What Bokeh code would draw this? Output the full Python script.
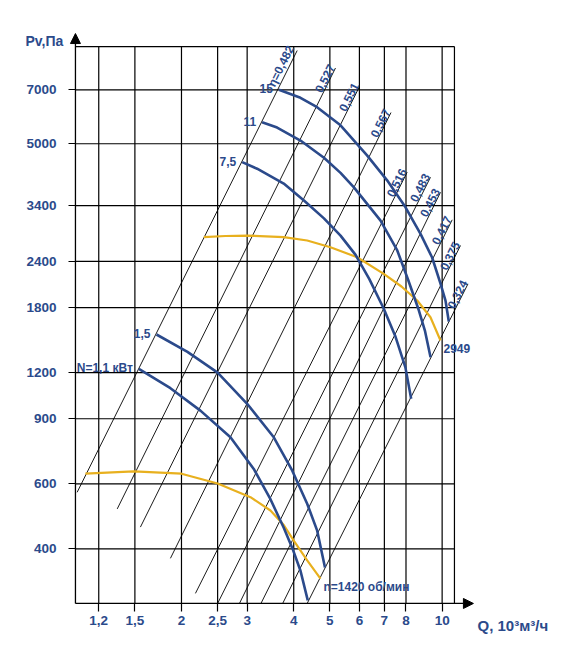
from bokeh.plotting import figure
from bokeh.models import Range1d, FixedTicker, Arrow, NormalHead, Label, CustomJSTickFormatter
from bokeh.core.properties import value
from bokeh.embed import file_html
from bokeh.resources import INLINE

# ---------------- data ----------------
X_TICKS = [1.2, 1.5, 2, 2.5, 3, 4, 5, 6, 7, 8, 10]
X_TICK_LABELS = ["1,2", "1,5", "2", "2,5", "3", "4", "5", "6", "7", "8", "10"]
Y_TICKS = [400, 600, 900, 1200, 1800, 2400, 3400, 5000, 7000]
Y_TICK_LABELS = ["400", "600", "900", "1200", "1800", "2400", "3400", "5000", "7000"]

# efficiency (system) lines
ETA_LABELS = ["η=0,482", "0,527", "0,551", "0,567", "0,516", "0,483", "0,453", "0,417", "0,375", "0,324"]
ETA_Q_START = [1.050, 1.345, 1.552, 1.868, 2.180, 2.50, 2.861, 3.267, 3.736, 4.346]
ETA_P_START = [569, 513, 458, 377, 303, 284.5, 284.5, 284.5, 284.5, 284.5]
ETA_Q_END = [4.086, 5.176, 6.002, 7.292, 8.058, 9.305, 9.898, 10.64, 11.20, 11.73]
ETA_P_END = [8942, 8018, 7142, 6074, 4187, 4058, 3695, 3112, 2651, 2087]

# power curves (blue)
N_LABELS = ["N=1,1 кВт", "1,5", "7,5", "11", "15"]
Q_N11 = [1.537, 1.868, 2.248, 2.706, 3.125, 3.464, 3.761, 3.968, 4.170, 4.362]
P_N11 = [1229, 1089, 947, 802, 658, 545, 456, 401, 349, 290]
Q_N15 = [1.714, 2.075, 2.5, 3.0, 3.536, 3.961, 4.346, 4.623, 4.851]
P_N15 = [1522, 1366, 1200, 988, 802, 652, 530, 448, 356]
Q_N75 = [2.91, 3.19, 3.76, 4.26, 4.82, 5.34, 5.86, 6.38, 6.97, 7.50, 7.97, 8.26]
P_N75 = [4460, 4280, 3900, 3510, 3140, 2820, 2500, 2150, 1790, 1500, 1240, 1020]
Q_N110 = [3.29, 3.61, 4.17, 4.82, 5.34, 5.80, 6.83, 7.58, 8.10, 8.66, 8.99, 9.31]
P_N110 = [5720, 5530, 5100, 4580, 4170, 3810, 3100, 2570, 2145, 1770, 1560, 1320]
Q_N150 = [3.65, 4.17, 4.62, 5.34, 6.29, 7.12, 7.97, 8.75, 9.40, 9.90, 10.21, 10.42]
P_N150 = [7000, 6660, 6280, 5610, 4650, 3980, 3370, 2850, 2460, 2090, 1880, 1650]

# speed curves (yellow)
SPEED_LABELS = ["n=1420 об/мин", "2949"]
Q_Y1420 = [1.105, 1.490, 2.0, 2.5, 3.062, 3.464, 3.761, 4.0, 4.346, 4.718]
P_Y1420 = [639, 648, 639, 601, 552, 508, 464, 421, 372, 332]
Q_Y2949 = [2.295, 2.624, 3.0, 3.762, 4.346, 5.018, 5.917, 6.973, 7.779, 8.574, 9.305, 9.898]
P_Y2949 = [2792, 2813, 2821, 2792, 2735, 2623, 2464, 2222, 2053, 1881, 1695, 1466]

# view / grid extents
Q_VIEW = (0.6542, 19.89)
P_VIEW = (230.1, 12215)
Q_LEFT, Q_GRID_END = 1.0392, 10.79
P_BOTTOM, P_GRID_END = 284.5, 9167
Q_ARROW = 12.13
P_ARROW = 9941

BLUE = "#2b4a8b"
YELLOW = "#e8b01e"
FONT = "Liberation Sans"

p = figure(width=553, height=637, x_axis_type="log", y_axis_type="log",
           x_range=Range1d(*Q_VIEW), y_range=Range1d(*P_VIEW),
           output_backend="svg", toolbar_location=None,
           min_border_left=0, min_border_right=0, min_border_top=0, min_border_bottom=0)
p.xgrid.visible = False
p.ygrid.visible = False
p.outline_line_color = None
p.background_fill_color = "white"
p.border_fill_color = "white"

# axes (fixed inside the frame)
p.xaxis[0].fixed_location = P_BOTTOM
p.yaxis[0].fixed_location = Q_LEFT
for ax, ticks, labels, tout, stand in ((p.xaxis[0], X_TICKS, X_TICK_LABELS, 8, 5),
                                       (p.yaxis[0], Y_TICKS, Y_TICK_LABELS, 7, 12)):
    ax.ticker = FixedTicker(ticks=ticks, minor_ticks=[])
    ax.formatter = CustomJSTickFormatter(code="return String(tick).replace('.', ',')")
    ax.major_label_overrides = {t: l for t, l in zip(ticks, labels)}
    ax.axis_line_color = None
    ax.major_tick_out = tout
    ax.major_tick_in = 0
    ax.major_tick_line_color = "black"
    ax.major_tick_line_width = 1.2
    ax.minor_tick_line_color = None
    ax.major_label_text_font = FONT
    ax.major_label_text_font_style = "bold"
    ax.major_label_text_font_size = "13.5px"
    ax.major_label_text_color = BLUE
    ax.major_label_standoff = stand

# grid (manual)
nx, ny = len(X_TICKS), len(Y_TICKS)
p.segment(x0=X_TICKS, y0=[P_BOTTOM] * nx, x1=X_TICKS, y1=[P_GRID_END] * nx,
          line_color="black", line_width=1.2)
p.segment(x0=[Q_LEFT] * ny, y0=Y_TICKS, x1=[Q_GRID_END] * ny, y1=Y_TICKS,
          line_color="black", line_width=1.2)
p.segment(x0=[Q_LEFT, Q_GRID_END], y0=[P_GRID_END, P_BOTTOM],
          x1=[Q_GRID_END, Q_GRID_END], y1=[P_GRID_END, P_GRID_END],
          line_color="black", line_width=1.2)

# axis arrows
p.add_layout(Arrow(end=NormalHead(size=10, fill_color="black", line_color="black"),
                   x_start=Q_LEFT, y_start=P_BOTTOM, x_end=Q_LEFT, y_end=P_ARROW,
                   line_color="black", line_width=1.3))
p.add_layout(Arrow(end=NormalHead(size=10, fill_color="black", line_color="black"),
                   x_start=Q_LEFT, y_start=P_BOTTOM, x_end=Q_ARROW, y_end=P_BOTTOM,
                   line_color="black", line_width=1.3))

# efficiency lines
p.segment(x0=ETA_Q_START, y0=ETA_P_START, x1=ETA_Q_END, y1=ETA_P_END,
          line_color="black", line_width=0.9)
p.text(x=ETA_Q_END, y=ETA_P_END, text=ETA_LABELS, angle=1.107,
       text_align="right", text_baseline="bottom", x_offset=0, y_offset=-1,
       text_font=value(FONT), text_font_style="bold", text_font_size="12px",
       text_color=BLUE)

# yellow speed curves
p.line(Q_Y1420, P_Y1420, line_color=YELLOW, line_width=2.2)
p.line(Q_Y2949, P_Y2949, line_color=YELLOW, line_width=2.2)

# blue power curves
curves = [(Q_N11, P_N11), (Q_N15, P_N15), (Q_N75, P_N75), (Q_N110, P_N110), (Q_N150, P_N150)]
for qs, ps in curves:
    p.line(qs, ps, line_color=BLUE, line_width=2.6)

p.text(x=[c[0][0] for c in curves], y=[c[1][0] for c in curves], text=N_LABELS,
       text_align="right", text_baseline="middle", x_offset=-6, y_offset=-1,
       text_font=value(FONT), text_font_style="bold", text_font_size="12px",
       text_color=BLUE)

p.text(x=[Q_Y1420[-1], Q_Y2949[-1]], y=[P_Y1420[-1], P_Y2949[-1]], text=SPEED_LABELS,
       text_align="left", text_baseline="middle", x_offset=3, y_offset=8,
       text_font=value(FONT), text_font_style="bold", text_font_size="12px",
       text_color=BLUE)

# axis titles
p.add_layout(Label(x=0.7632, y=9517, text="Pv,Па", text_align="left", text_baseline="middle",
                   text_font=FONT, text_font_style="bold", text_font_size="14px", text_color=BLUE))
p.add_layout(Label(x=12.44, y=248, text="Q, 10³м³/ч", text_align="left", text_baseline="middle",
                   text_font=FONT, text_font_style="bold", text_font_size="15px", text_color=BLUE))

open("out.html", "w").write(file_html(p, INLINE))
